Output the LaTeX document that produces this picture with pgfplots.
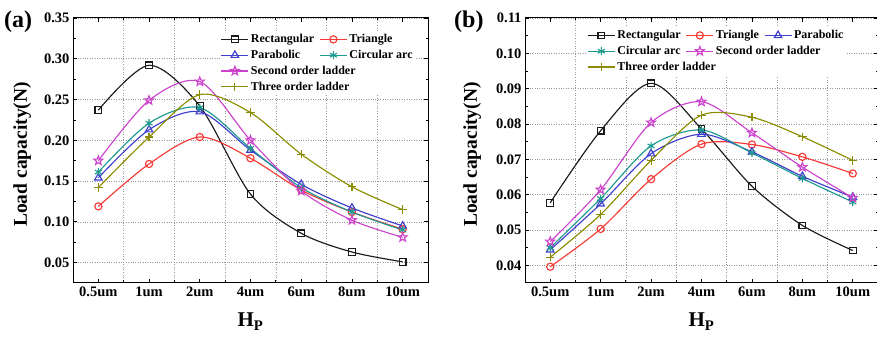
\documentclass[border=0pt]{standalone}
\usepackage{pgfplots}
\pgfplotsset{compat=1.18}
\usepackage{fontspec}
\setmainfont{Liberation Serif}
\usetikzlibrary{plotmarks}

\definecolor{cRect}{HTML}{1A1A1A}
\definecolor{cTri}{HTML}{F53B35}
\definecolor{cPara}{HTML}{3F3FCC}
\definecolor{cCirc}{HTML}{1F9A8F}
\definecolor{cSec}{HTML}{CC44CC}
\definecolor{cThr}{HTML}{8C8C00}

\pgfdeclareplotmark{ostar}{%
  \pgfpathmoveto{\pgfpointpolar{90}{\pgfplotmarksize}}%
  \pgfpathlineto{\pgfpointpolar{126}{0.42\pgfplotmarksize}}%
  \pgfpathlineto{\pgfpointpolar{162}{\pgfplotmarksize}}%
  \pgfpathlineto{\pgfpointpolar{198}{0.42\pgfplotmarksize}}%
  \pgfpathlineto{\pgfpointpolar{234}{\pgfplotmarksize}}%
  \pgfpathlineto{\pgfpointpolar{270}{0.42\pgfplotmarksize}}%
  \pgfpathlineto{\pgfpointpolar{306}{\pgfplotmarksize}}%
  \pgfpathlineto{\pgfpointpolar{342}{0.42\pgfplotmarksize}}%
  \pgfpathlineto{\pgfpointpolar{18}{\pgfplotmarksize}}%
  \pgfpathlineto{\pgfpointpolar{54}{0.42\pgfplotmarksize}}%
  \pgfpathclose
  \pgfusepathqstroke
}

\pgfplotsset{
  myaxis/.style={
    scale only axis,
    xmin=-0.5, xmax=6.5,
    xtick={0,...,6},
    xticklabels={0.5um,1um,2um,4um,6um,8um,10um},
    minor xtick={-0.5,0.5,1.5,2.5,3.5,4.5,5.5,6.5},
    xminorgrids=true,
    ymajorgrids=true,
    minor y tick num=1,
    tick align=inside,
    major tick length=4pt,
    minor tick length=2.5pt,
    grid style={dotted, gray!80, line width=0.6pt},
    minor grid style={dotted, gray!80, line width=0.6pt},
    axis line style={line width=1pt},
    every tick/.style={black, line width=0.8pt},
    /pgf/number format/assume math mode=true,
    tick label style={font=\fontsize{14.5}{16}\selectfont\bfseries},
    yticklabel style={/pgf/number format/fixed, /pgf/number format/fixed zerofill, /pgf/number format/precision=2},
    ylabel={Load capacity(N)},
    ylabel style={anchor=base, font=\fontsize{19.5}{22}\selectfont\bfseries},
    xlabel={H\textsubscript{P}},
    xlabel style={anchor=base, font=\fontsize{21}{23}\selectfont\bfseries},
    legend cell align=left,
    legend image code/.code={\draw[mark repeat=2,mark phase=2] plot coordinates {(0pt,0pt) (13.5pt,0pt) (27pt,0pt)};},
    every axis plot/.append style={smooth, line width=1.15pt},
  },
  legst/.style={draw=none, fill=white, inner sep=1pt, row sep=2pt,
    font=\fontsize{12}{13.5}\selectfont\bfseries,
    /tikz/every even column/.append style={column sep=3pt}},
  sRect/.style={color=cRect, mark=square, mark size=3.3pt, mark options={solid}},
  sTri/.style={color=cTri, mark=o, mark size=3.6pt},
  sPara/.style={color=cPara, mark=triangle, mark size=4.3pt},
  sCirc/.style={color=cCirc, mark=asterisk, mark size=4pt},
  sSec/.style={color=cSec, mark=ostar, mark size=4.6pt},
  sThr/.style={color=cThr, mark=+, mark size=4.2pt},
}

\begin{document}
\begin{tikzpicture}
\path[use as bounding box] (0pt,0pt) rectangle (877pt,337pt);

\node[anchor=base west, font=\fontsize{24}{26}\selectfont\bfseries, inner sep=0pt] at (4pt,309pt) {(a)};
\node[anchor=base west, font=\fontsize{24}{26}\selectfont\bfseries, inner sep=0pt] at (454pt,309pt) {(b)};

\begin{axis}[myaxis, at={(73pt,54pt)}, anchor=south west, width=355pt, height=265pt,
  ymin=0.025, ymax=0.35,
  ytick={0.05,0.1,0.15,0.2,0.25,0.3,0.35},
  ylabel style={at={(axis description cs:-0.1296,0.485)}},
  xlabel style={at={(axis description cs:0.5,-0.166)}},
  legend columns=2,
  legend style={legst, at={(axis description cs:0.413,0.95)}, anchor=north west},
]
\addplot[sRect] coordinates {(0,0.237) (1,0.292) (2,0.242) (3,0.134) (4,0.086) (5,0.063) (6,0.051)};
\addlegendentry{Rectangular}
\addplot[sTri] coordinates {(0,0.119) (1,0.171) (2,0.204) (3,0.178) (4,0.139) (5,0.112) (6,0.091)};
\addlegendentry{Triangle}
\addplot[sPara] coordinates {(0,0.154) (1,0.213) (2,0.235) (3,0.188) (4,0.146) (5,0.117) (6,0.095)};
\addlegendentry{Parabolic}
\addplot[sCirc] coordinates {(0,0.161) (1,0.221) (2,0.240) (3,0.190) (4,0.142) (5,0.112) (6,0.090)};
\addlegendentry{Circular arc}
\addplot[sSec] coordinates {(0,0.175) (1,0.249) (2,0.272) (3,0.200) (4,0.138) (5,0.102) (6,0.081)};
\addlegendentry{\rlap{Second order ladder}\phantom{Rectangular}}
\addlegendimage{empty legend}
\addlegendentry{}
\addplot[sThr] coordinates {(0,0.142) (1,0.204) (2,0.256) (3,0.234) (4,0.183) (5,0.143) (6,0.115)};
\addlegendentry{\rlap{Three order ladder}\phantom{Rectangular}}
\end{axis}

\begin{axis}[myaxis, at={(525pt,54pt)}, anchor=south west, width=353pt, height=265pt,
  ymin=0.035, ymax=0.11,
  ytick={0.04,0.05,0.06,0.07,0.08,0.09,0.1,0.11},
  ylabel style={at={(axis description cs:-0.136,0.485)}},
  xlabel style={at={(axis description cs:0.5,-0.166)}},
  legend columns=3,
  legend style={legst, at={(axis description cs:0.173,0.965)}, anchor=north west},
]
\addplot[sRect] coordinates {(0,0.0577) (1,0.0781) (2,0.0915) (3,0.0786) (4,0.0624) (5,0.0513) (6,0.0442)};
\addlegendentry{Rectangular}
\addplot[sTri] coordinates {(0,0.0396) (1,0.0503) (2,0.0644) (3,0.0743) (4,0.0742) (5,0.0707) (6,0.0660)};
\addlegendentry{Triangle}
\addplot[sPara] coordinates {(0,0.0444) (1,0.0574) (2,0.0716) (3,0.0771) (4,0.0721) (5,0.0652) (6,0.0593)};
\addlegendentry{Parabolic}
\addplot[sCirc] coordinates {(0,0.0450) (1,0.0589) (2,0.0738) (3,0.0783) (4,0.0718) (5,0.0646) (6,0.0579)};
\addlegendentry{Circular arc}
\addplot[sSec] coordinates {(0,0.0467) (1,0.0614) (2,0.0804) (3,0.0863) (4,0.0775) (5,0.0678) (6,0.0591)};
\addlegendentry{\rlap{Second order ladder}\phantom{Triangle}}
\addlegendimage{empty legend}
\addlegendentry{}
\addplot[sThr] coordinates {(0,0.0423) (1,0.0544) (2,0.0697) (3,0.0825) (4,0.0819) (5,0.0764) (6,0.0697)};
\addlegendentry{\rlap{Three order ladder}\phantom{Rectangular}}
\end{axis}
\end{tikzpicture}
\end{document}
